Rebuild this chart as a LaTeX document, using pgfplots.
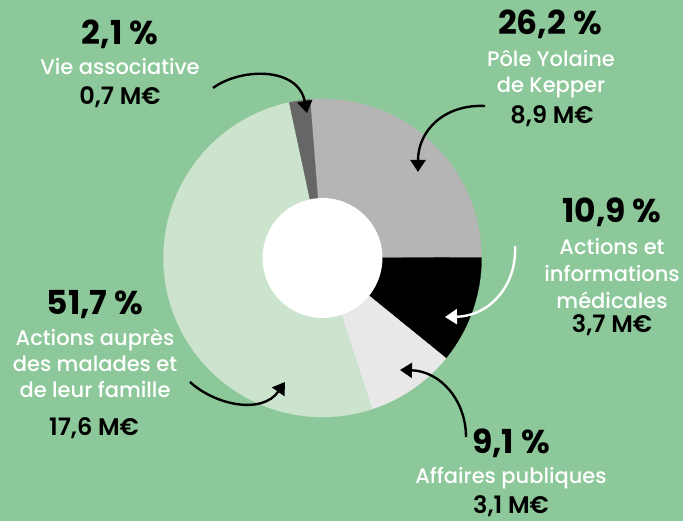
\documentclass[border=0pt]{standalone}
\usepackage{pgfplots}
\pgfplotsset{compat=1.18}
\usepackage{fontspec}
\setmainfont{Poppins}
\newfontfamily\medfont{Poppins Medium}
\newfontfamily\semifont{Poppins SemiBold}
\usetikzlibrary{arrows.meta}
\definecolor{bg}{HTML}{8DC89A}
\definecolor{cgrey}{HTML}{B5B5B5}
\definecolor{cblack}{HTML}{000000}
\definecolor{clgrey}{HTML}{E8E8E8}
\definecolor{clgreen}{HTML}{CCE4CE}
\definecolor{cdgrey}{HTML}{666666}
\newcommand\pct{\fontsize{33}{36}\selectfont\bfseries}
\newcommand\lab{\fontsize{21}{26}\selectfont\medfont}
\newcommand\meur{\fontsize{24}{26}\selectfont\semifont}
\begin{document}
\begin{tikzpicture}
\fill[bg] (0,0) rectangle (683pt,-521pt);
% shares (%): 26.2, 10.9, 9.1, 51.7, 2.1 -- clockwise from 94.5 deg, 3.6 deg per %
\begin{axis}[hide axis, scale only axis, width=318pt, height=318pt,
  xmin=-1, xmax=1, ymin=-1, ymax=1, at={(322.5pt,-258pt)}, anchor=center, clip=false]
\addplot[fill=cgrey, draw=cgrey, line width=0.3pt, domain=0.18:94.5, samples=100, variable=\t] ({cos(\t)},{sin(\t)}) -- (axis cs:0,0) -- cycle;
\addplot[fill=cblack, draw=cblack, line width=0.3pt, domain=-39.06:0.18, samples=60, variable=\t] ({cos(\t)},{sin(\t)}) -- (axis cs:0,0) -- cycle;
\addplot[fill=clgrey, draw=clgrey, line width=0.3pt, domain=-71.82:-39.06, samples=60, variable=\t] ({cos(\t)},{sin(\t)}) -- (axis cs:0,0) -- cycle;
\addplot[fill=clgreen, draw=clgreen, line width=0.3pt, domain=-257.94:-71.82, samples=160, variable=\t] ({cos(\t)},{sin(\t)}) -- (axis cs:0,0) -- cycle;
\addplot[fill=cdgrey, draw=cdgrey, line width=0.3pt, domain=94.5:102.06, samples=20, variable=\t] ({cos(\t)},{sin(\t)}) -- (axis cs:0,0) -- cycle;
\addplot[fill=white, draw=none, domain=0:360, samples=150, variable=\t] ({0.377*cos(\t)},{0.377*sin(\t)}) -- cycle;
\end{axis}
\begin{scope}[x=1pt, y=-1pt, line width=2.4pt, >={Triangle[length=12pt,width=15pt]}]
\draw[->] (213,88) .. controls (240,68) and (298,66) .. (307,113);
\draw[->] (485,106) .. controls (445,104) and (418,130) .. (418,172);
\draw[->, white] (515,246) .. controls (517,285) and (490,316) .. (445,317);
\draw[->] (466,437) .. controls (466,400) and (440,371) .. (400,370);
\draw[->] (190,382) .. controls (215,405) and (262,415) .. (285,382);
\tikzset{every node/.style={anchor=base, inner sep=0pt}}
\node at (120,45) {\pct 2,1 \%};
\node[white] at (120,75) {\lab Vie associative};
\node at (120,105) {\meur 0,7 M€};
\node at (550,35) {\pct 26,2 \%};
\node[white] at (551,67) {\lab Pôle Yolaine};
\node[white] at (551,93) {\lab de Kepper};
\node at (552,124) {\meur 8,9 M€};
\node at (612,223) {\pct 10,9 \%};
\node[white] at (612,255) {\lab Actions et};
\node[white] at (612,282) {\lab informations};
\node[white] at (612,309) {\lab médicales};
\node at (612,333) {\meur 3,7 M€};
\node at (95,315) {\pct 51,7 \%};
\node[white] at (95,345) {\lab Actions auprès};
\node[white] at (95,371) {\lab des malades et};
\node[white] at (95,397) {\lab de leur famille};
\node at (94,435) {\meur 17,6 M€};
\node at (511,453) {\pct 9,1 \%};
\node[white] at (511,483) {\lab Affaires publiques};
\node at (511,513) {\meur 3,1 M€};
\end{scope}
\end{tikzpicture}
\end{document}
